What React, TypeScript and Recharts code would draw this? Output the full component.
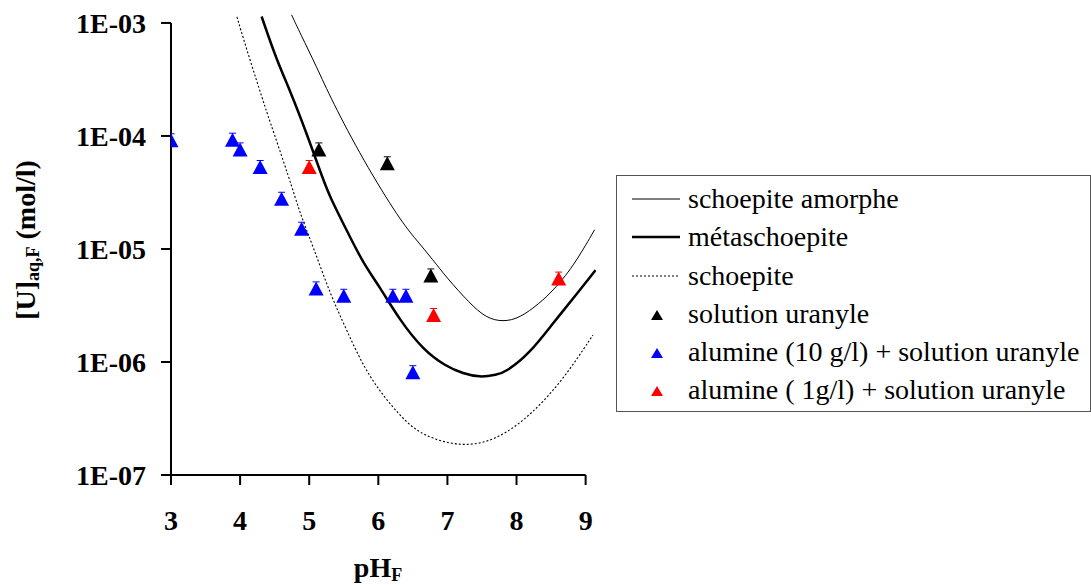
import React from "react"
import { ComposedChart, Line, Scatter, XAxis, YAxis, ReferenceLine, Legend } from "recharts"

// courbes de solubilité
const amorpheX = [4.745, 4.865, 5.107, 5.323, 5.78, 6.311, 6.552, 6.792, 6.986, 7.323, 7.56, 7.804, 8.05, 8.33, 8.527, 8.816, 9.13]
const amorpheY = [1.18e-3, 8.2e-4, 4.1e-4, 2.08e-4, 6.1e-5, 1.81e-5, 1.2e-5, 8.0e-6, 5.6e-6, 3.3e-6, 2.45e-6, 2.26e-6, 2.45e-6, 3.3e-6, 4.27e-6, 6.9e-6, 1.48e-5]

const metaX = [4.311, 4.528, 4.72, 4.962, 5.202, 5.299, 5.54, 5.78, 6.022, 6.3, 6.648, 6.986, 7.226, 7.467, 7.71, 7.853, 8.19, 8.527, 8.913, 9.144]
const metaY = [1.14e-3, 4.7e-4, 2.55e-4, 1.06e-4, 4.1e-5, 2.9e-5, 1.47e-5, 7.5e-6, 4.6e-6, 2.4e-6, 1.28e-6, 9.1e-7, 7.9e-7, 7.3e-7, 7.7e-7, 8.2e-7, 1.19e-6, 2.2e-6, 4.3e-6, 6.5e-6]

const schoepiteX = [3.954, 4.142, 4.33, 4.407, 4.72, 4.865, 5.057, 5.299, 5.54, 5.852, 6.311, 6.648, 7.226, 7.709, 8.19, 8.672, 9.105]
const schoepiteY = [1.13e-3, 4.7e-4, 2.08e-4, 1.48e-4, 4.1e-5, 2.07e-5, 1.05e-5, 4.06e-6, 1.92e-6, 7.4e-7, 3.3e-7, 2.18e-7, 1.76e-7, 2.04e-7, 3.3e-7, 6.9e-7, 1.73e-6]

// points expérimentaux
const uranyleX = [5.14, 6.13, 6.76]
const uranyleY = [7.3e-5, 5.5e-5, 5.6e-6]

const alumine10X = [3.0, 3.89, 4.0, 4.29, 4.6, 4.89, 5.1, 5.5, 6.21, 6.4, 6.5]
const alumine10Y = [8.8e-5, 8.9e-5, 7.3e-5, 5.1e-5, 2.67e-5, 1.45e-5, 4.3e-6, 3.7e-6, 3.7e-6, 3.7e-6, 7.8e-7]

const alumine1X = [5.0, 6.8, 8.61]
const alumine1Y = [5.1e-5, 2.5e-6, 5.25e-6]

const xTicks = [3, 4, 5, 6, 7, 8, 9]
const yTicks = [1e-7, 1e-6, 1e-5, 1e-4, 1e-3]

const zip = (xs: number[], ys: number[]) => xs.map((x, i) => ({ x, y: ys[i] }))

const FONT = "'Liberation Serif', 'Times New Roman', serif"

const Triangle = (props: any) => {
  const { cx, cy, fill } = props
  if (cx == null || cy == null) return null
  return (
    <g>
      <polygon points={`${cx - 7.5},${cy + 5} ${cx + 7.5},${cy + 5} ${cx},${cy - 9}`} fill={fill} />
      <line x1={cx - 3.5} x2={cx + 3.5} y1={cy - 8.5} y2={cy - 8.5} stroke={fill} strokeWidth={1} />
    </g>
  )
}

const legendItems = [
  { name: "schoepite amorphe", kind: "line", width: 1, dash: undefined, color: "#000" },
  { name: "métaschoepite", kind: "line", width: 2.5, dash: undefined, color: "#000" },
  { name: "schoepite", kind: "line", width: 1, dash: "2 2", color: "#000" },
  { name: "solution uranyle", kind: "tri", color: "#000" },
  { name: "alumine (10 g/l) + solution uranyle", kind: "tri", color: "#0000ff" },
  { name: "alumine ( 1g/l) + solution uranyle", kind: "tri", color: "#ff0000" },
]

const LegendBox = () => (
  <div
    style={{
      boxSizing: "border-box",
      width: 475,
      height: 237,
      border: "1px solid #555",
      background: "#fff",
      padding: "4px 0 0 15px",
      fontFamily: FONT,
      fontSize: 28,
      lineHeight: "38.3px",
      color: "#000",
      whiteSpace: "nowrap",
    }}
  >
    {legendItems.map((it) => (
      <div key={it.name} style={{ display: "flex", height: 38.3 }}>
        <svg width={56} height={38} style={{ flex: "none" }}>
          {it.kind === "line" ? (
            <line x1={0} x2={48} y1={19} y2={19} stroke={it.color} strokeWidth={it.width} strokeDasharray={it.dash} />
          ) : (
            <polygon points="19,25 31,25 25,15" fill={it.color} />
          )}
        </svg>
        <span>{it.name}</span>
      </div>
    ))}
  </div>
)

const XLabel = () => (
  <text x={378} y={577} textAnchor="middle" fontFamily={FONT} fontWeight="bold" fontSize={28} fill="#000">
    pH
    <tspan fontSize={18} dy={4}>F</tspan>
  </text>
)

const YLabel = () => (
  <text transform="translate(35,240) rotate(-90)" textAnchor="middle" fontFamily={FONT} fontWeight="bold" fontSize={28} fill="#000">
    [U]
    <tspan fontSize={18} dy={4}>aq,F</tspan>
    <tspan dy={-4}> (mol/l)</tspan>
  </text>
)

const tickStyle = { fill: "#000", fontSize: 28, fontWeight: "bold", fontFamily: FONT }

export default function App() {
  return (
    <div style={{ position: "absolute", left: 0, top: 0, background: "#fff" }}>
      <ComposedChart width={1091} height={585} margin={{ top: 14, right: 495, bottom: 50, left: 0 }}>
        <XAxis
          type="number"
          dataKey="x"
          domain={[3, 9.15]}
          allowDataOverflow
          ticks={xTicks}
          axisLine={false}
          tickLine={{ stroke: "#000", strokeWidth: 2 }}
          tickSize={10}
          tickMargin={25}
          tick={tickStyle}
          height={60}
          label={{ content: () => <XLabel /> }}
        />
        <YAxis
          type="number"
          scale="log"
          domain={[1e-7, 1.2e-3]}
          allowDataOverflow
          ticks={yTicks}
          axisLine={false}
          tickLine={{ stroke: "#000", strokeWidth: 2 }}
          tickSize={10}
          tickMargin={15}
          tick={tickStyle}
          tickFormatter={(v: number) => `1E-0${-Math.round(Math.log10(v))}`}
          width={171}
          label={{ content: () => <YLabel /> }}
        />
        <ReferenceLine segment={[{ x: 3, y: 1e-7 }, { x: 9, y: 1e-7 }]} stroke="#000" strokeWidth={2} ifOverflow="visible" />
        <ReferenceLine segment={[{ x: 3, y: 1e-7 }, { x: 3, y: 1e-3 }]} stroke="#000" strokeWidth={2} ifOverflow="visible" />
        <Line data={zip(amorpheX, amorpheY)} dataKey="y" type="basis" stroke="#000" strokeWidth={1} dot={false} isAnimationActive={false} />
        <Line data={zip(metaX, metaY)} dataKey="y" type="basis" stroke="#000" strokeWidth={2.5} dot={false} isAnimationActive={false} />
        <Line data={zip(schoepiteX, schoepiteY)} dataKey="y" type="basis" stroke="#000" strokeWidth={1.1} strokeDasharray="2 2" dot={false} isAnimationActive={false} />
        <Scatter data={zip(uranyleX, uranyleY)} dataKey="y" fill="#000" shape={<Triangle />} isAnimationActive={false} />
        <Scatter data={zip(alumine10X, alumine10Y)} dataKey="y" fill="#0000ff" shape={<Triangle />} isAnimationActive={false} />
        <Scatter data={zip(alumine1X, alumine1Y)} dataKey="y" fill="#ff0000" shape={<Triangle />} isAnimationActive={false} />
        <Legend
          layout="horizontal"
          verticalAlign="middle"
          align="center"
          content={() => <LegendBox />}
          wrapperStyle={{ left: 616, top: 175, width: 475, height: 237 }}
        />
      </ComposedChart>
    </div>
  )
}
